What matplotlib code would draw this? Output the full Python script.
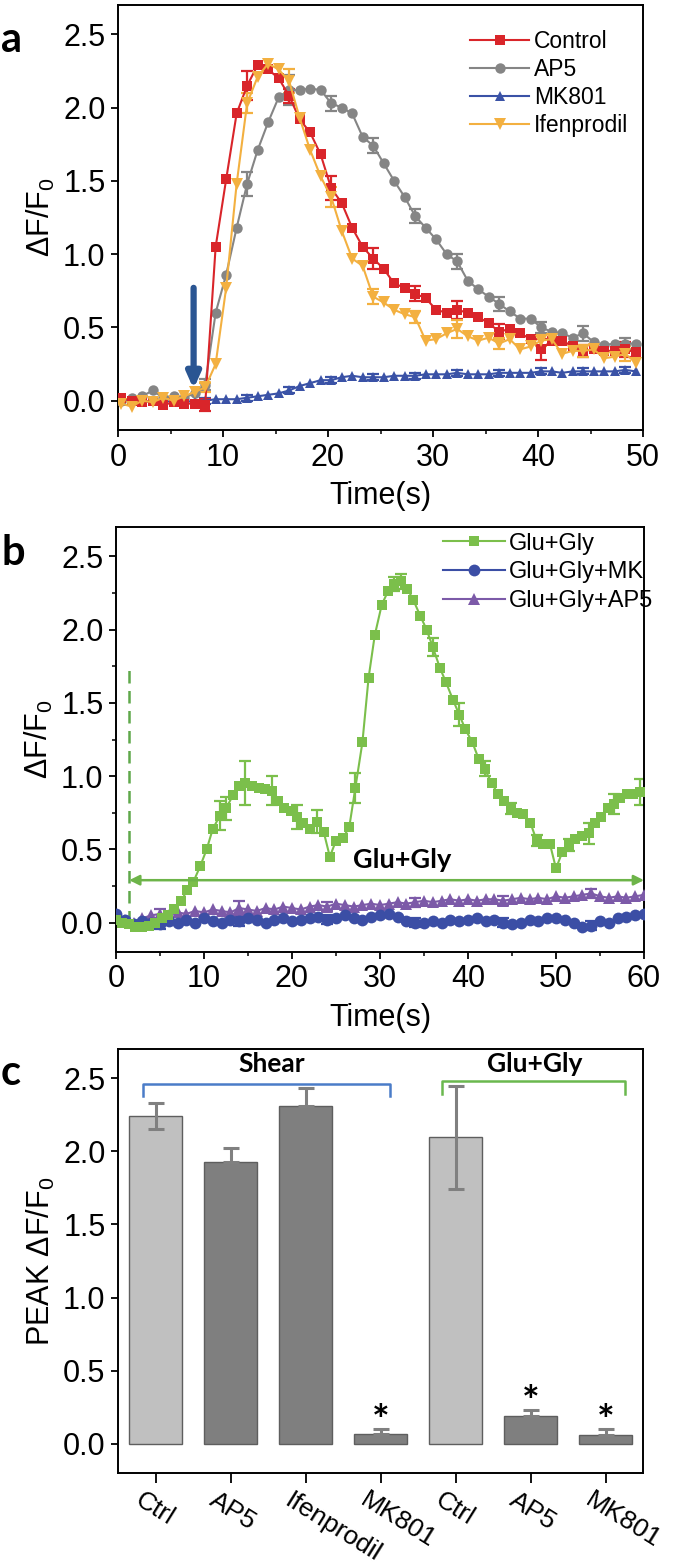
import numpy as np
import matplotlib
matplotlib.use("Agg")
import matplotlib.pyplot as plt
from matplotlib import font_manager as fm
from matplotlib.transforms import ScaledTranslation

# ---------------- fonts ----------------
fam = "Liberation Sans"
try:
    fm.findfont("Liberation Sans Narrow", fallback_to_default=False)
    fam = "Liberation Sans Narrow"
except Exception:
    pass
plt.rcParams['font.family'] = [fam, 'DejaVu Sans']
plt.rcParams['mathtext.fontset'] = 'custom'
plt.rcParams['mathtext.rm'] = fam
plt.rcParams['mathtext.it'] = fam
BOLDFAM = ['Lato', 'DejaVu Sans']

# ---------------- panel a data ----------------
t_a = [0.3, 1.3, 2.3, 3.3, 4.3, 5.3, 6.3, 7.3, 8.3, 9.3,
       10.3, 11.3, 12.3, 13.3, 14.3, 15.3, 16.3, 17.3, 18.3, 19.3,
       20.3, 21.3, 22.3, 23.3, 24.3, 25.3, 26.3, 27.3, 28.3, 29.3,
       30.3, 31.3, 32.3, 33.3, 34.3, 35.3, 36.3, 37.3, 38.3, 39.3,
       40.3, 41.3, 42.3, 43.3, 44.3, 45.3, 46.3, 47.3, 48.3, 49.3]
control = [0.02, 0.00, -0.01, 0.00, -0.03, -0.01, -0.02, -0.02, -0.03, 1.05,
           1.51, 1.96, 2.15, 2.29, 2.26, 2.20, 2.08, 1.92, 1.83, 1.68,
           1.45, 1.35, 1.18, 1.05, 0.97, 0.90, 0.80, 0.77, 0.73, 0.70,
           0.62, 0.60, 0.62, 0.60, 0.57, 0.53, 0.47, 0.49, 0.46, 0.42,
           0.35, 0.41, 0.41, 0.37, 0.34, 0.35, 0.34, 0.34, 0.35, 0.33]
ap5 = [0.00, 0.02, 0.03, 0.07, 0.02, 0.03, 0.02, 0.05, 0.11, 0.60,
       0.86, 1.18, 1.48, 1.71, 1.90, 2.07, 2.12, 2.12, 2.13, 2.12,
       2.03, 2.00, 1.96, 1.80, 1.74, 1.62, 1.50, 1.39, 1.26, 1.18,
       1.10, 1.00, 0.95, 0.82, 0.76, 0.71, 0.66, 0.61, 0.56, 0.56,
       0.50, 0.47, 0.46, 0.43, 0.46, 0.40, 0.38, 0.39, 0.39, 0.39]
mk801 = [0.00, 0.00, -0.01, 0.00, -0.01, 0.00, -0.01, 0.00, 0.00, 0.01,
         0.01, 0.01, 0.02, 0.03, 0.04, 0.05, 0.07, 0.10, 0.12, 0.14,
         0.14, 0.16, 0.17, 0.16, 0.16, 0.16, 0.17, 0.17, 0.17, 0.18,
         0.18, 0.18, 0.19, 0.18, 0.18, 0.18, 0.19, 0.19, 0.19, 0.19,
         0.20, 0.20, 0.19, 0.20, 0.20, 0.20, 0.20, 0.20, 0.21, 0.20]
ifen = [-0.02, -0.04, 0.00, -0.01, 0.02, 0.00, 0.03, 0.06, 0.09, 0.25,
        0.77, 1.48, 2.03, 2.21, 2.30, 2.26, 2.18, 1.93, 1.71, 1.53,
        1.39, 1.16, 0.97, 0.92, 0.71, 0.67, 0.62, 0.59, 0.57, 0.41,
        0.42, 0.46, 0.49, 0.44, 0.41, 0.43, 0.39, 0.42, 0.35, 0.37,
        0.41, 0.42, 0.32, 0.34, 0.34, 0.35, 0.29, 0.30, 0.32, 0.26]
# error bars shown on every 4th sample starting at index 8
err_idx_a = [8, 12, 16, 20, 24, 28, 32, 36, 40, 44, 48]
control_err = [0.04, 0.10, 0.05, 0.08, 0.07, 0.05, 0.06, 0.05, 0.07, 0.04, 0.05]
ap5_err = [0.04, 0.08, 0.10, 0.05, 0.05, 0.05, 0.05, 0.05, 0.04, 0.05, 0.04]
mk801_err = [0.02, 0.02, 0.02, 0.02, 0.02, 0.02, 0.02, 0.02, 0.02, 0.02, 0.02]
ifen_err = [0.03, 0.07, 0.08, 0.07, 0.05, 0.04, 0.06, 0.04, 0.04, 0.04, 0.05]
series_a = ['Control', 'AP5', 'MK801', 'Ifenprodil']

# ---------------- panel b data ----------------
t_glu = [0.0, 0.7, 1.5, 2.2, 3.0, 3.7, 4.4, 5.2, 5.9, 6.6,
         7.4, 8.1, 8.8, 9.6, 10.3, 11.0, 11.8, 12.5, 13.3, 14.0,
         14.7, 15.5, 16.2, 16.9, 17.7, 18.4, 19.1, 19.9, 20.6, 21.3,
         22.1, 22.8, 23.6, 24.3, 25.0, 25.8, 26.5, 27.2, 28.0, 28.7,
         29.4, 30.2, 30.9, 31.6, 32.4, 33.1, 33.8, 34.6, 35.3, 36.0,
         36.8, 37.5, 38.3, 39.0, 39.7, 40.5, 41.2, 41.9, 42.7, 43.4,
         44.1, 44.9, 45.6, 46.3, 47.1, 47.8, 48.5, 49.3, 50.0, 50.7,
         51.5, 52.2, 52.9, 53.7, 54.4, 55.1, 55.9, 56.6, 57.3, 58.1,
         58.8, 59.6]
glu = [0.02, 0.00, -0.01, -0.03, -0.03, -0.02, 0.00, 0.03, 0.05, 0.09,
       0.15, 0.22, 0.28, 0.39, 0.50, 0.64, 0.73, 0.78, 0.87, 0.93,
       0.95, 0.93, 0.92, 0.91, 0.90, 0.83, 0.78, 0.76, 0.72, 0.68,
       0.64, 0.69, 0.62, 0.45, 0.56, 0.58, 0.65, 0.92, 1.23, 1.67,
       1.96, 2.17, 2.26, 2.31, 2.33, 2.28, 2.20, 2.09, 2.00, 1.88,
       1.74, 1.64, 1.52, 1.42, 1.32, 1.23, 1.12, 1.05, 0.95, 0.88,
       0.83, 0.78, 0.75, 0.74, 0.68, 0.56, 0.54, 0.54, 0.37, 0.48,
       0.53, 0.57, 0.59, 0.61, 0.68, 0.72, 0.78, 0.81, 0.85, 0.88,
       0.88, 0.89]
glu_err_idx = [16, 17, 20, 24, 28, 31, 37, 43, 44, 49, 53, 57, 61, 65, 70, 73, 77, 81]
glu_err = [0.10, 0.08, 0.15, 0.10, 0.08, 0.08, 0.10, 0.05, 0.05, 0.06,
           0.08, 0.05, 0.04, 0.04, 0.04, 0.07, 0.07, 0.09]

t_b = [float(v) for v in range(61)]
glu_mk = [0.06, 0.02, -0.01, 0.01, 0.00, -0.01, 0.01, 0.00, 0.02, 0.00,
          0.03, 0.01, 0.00, 0.02, 0.01, 0.03, 0.02, 0.00, 0.02, 0.03,
          0.01, 0.02, 0.03, 0.04, 0.02, 0.03, 0.05, 0.03, 0.02, 0.04,
          0.05, 0.06, 0.04, 0.01, 0.00, 0.00, 0.01, 0.00, 0.02, 0.01,
          0.02, 0.03, 0.01, 0.02, 0.00, -0.01, 0.00, 0.02, 0.01, 0.03,
          0.03, 0.02, 0.00, -0.03, -0.02, 0.01, 0.00, 0.03, 0.04, 0.05,
          0.06]
glu_ap5 = [0.03, 0.02, 0.00, 0.03, 0.05, 0.06, 0.05, 0.07, 0.06, 0.08,
           0.07, 0.09, 0.08, 0.07, 0.10, 0.09, 0.08, 0.10, 0.09, 0.11,
           0.10, 0.09, 0.11, 0.12, 0.11, 0.13, 0.12, 0.11, 0.12, 0.13,
           0.12, 0.13, 0.14, 0.13, 0.14, 0.15, 0.14, 0.15, 0.16, 0.15,
           0.16, 0.15, 0.16, 0.16, 0.15, 0.16, 0.17, 0.16, 0.17, 0.16,
           0.18, 0.17, 0.18, 0.19, 0.20, 0.18, 0.17, 0.18, 0.17, 0.18,
           0.19]
err_idx_b = [5, 14, 24, 34, 44, 54]
glu_mk_err = [0.03, 0.03, 0.03, 0.03, 0.03, 0.03]
glu_ap5_err = [0.03, 0.05, 0.03, 0.03, 0.03, 0.03]
series_b = ['Glu+Gly', 'Glu+Gly+MK', 'Glu+Gly+AP5']

# ---------------- panel c data ----------------
bar_labels = ['Ctrl', 'AP5', 'Ifenprodil', 'MK801', 'Ctrl', 'AP5', 'MK801']
bar_values = [2.24, 1.93, 2.31, 0.07, 2.10, 0.19, 0.06]
bar_err_up = [0.09, 0.09, 0.12, 0.03, 0.35, 0.04, 0.04]
bar_err_down = [0.09, 0.0, 0.0, 0.0, 0.36, 0.0, 0.0]
bar_light = [True, False, False, False, True, False, False]
bar_star = [False, False, False, True, False, True, True]

# ---------------- styling ----------------
C_RED = '#d9252a'
C_GRAY = '#858585'
C_BLUE = '#3a52a6'
C_ORANGE = '#f3b040'
C_GREEN = '#7bbf4b'
C_BLUE_B = '#3b4ea5'
C_PURPLE = '#7c5aa8'
C_ARROW = '#2a5592'

W, H = 675, 1568
fig = plt.figure(figsize=(W / 100, H / 100), dpi=100)

def ax_rect(l, t, r, b):
    return [l / W, 1 - b / H, (r - l) / W, (b - t) / H]

ax_a = fig.add_axes(ax_rect(118, 5, 643, 430))
ax_b = fig.add_axes(ax_rect(116, 527, 644, 952))
ax_c = fig.add_axes(ax_rect(118, 1049, 643, 1473))

TICK_FS = 22
LAB_FS = 22
LEG_FS = 16.5

def style_axes(ax):
    for s in ax.spines.values():
        s.set_linewidth(1.4)
    ax.tick_params(axis='both', which='major', direction='out', length=5,
                   width=1.3, labelsize=TICK_FS, pad=4)
    ax.tick_params(axis='both', which='minor', direction='out', length=3,
                   width=1.1)

def plot_series(ax, t, y, idx, err, color, marker, label, ms=7):
    t = np.asarray(t)
    y = np.asarray(y)
    ax.errorbar(t[idx], y[idx], yerr=err, fmt='none', ecolor=color,
                elinewidth=1.6, capsize=4, capthick=1.6, zorder=2)
    ax.plot(t, y, color=color, lw=1.5, marker=marker, ms=ms,
            markeredgewidth=0, label=label, zorder=3)

# ---------------- panel a ----------------
plot_series(ax_a, t_a, mk801, err_idx_a, mk801_err, C_BLUE, '^', series_a[2], ms=7.5)
plot_series(ax_a, t_a, ap5, err_idx_a, ap5_err, C_GRAY, 'o', series_a[1], ms=7.5)
plot_series(ax_a, t_a, control, err_idx_a, control_err, C_RED, 's', series_a[0], ms=7)
plot_series(ax_a, t_a, ifen, err_idx_a, ifen_err, C_ORANGE, 'v', series_a[3], ms=8)
ax_a.set_xlim(0, 50)
ax_a.set_ylim(-0.2, 2.7)
ax_a.set_xticks([0, 10, 20, 30, 40, 50])
ax_a.set_xticks([5, 15, 25, 35, 45], minor=True)
ax_a.set_yticks([0.0, 0.5, 1.0, 1.5, 2.0, 2.5])
ax_a.set_yticklabels(['0.0', '0.5', '1.0', '1.5', '2.0', '2.5'])
style_axes(ax_a)
ax_a.set_xlabel('Time(s)', fontsize=LAB_FS, labelpad=6)
ax_a.set_ylabel(r'$\Delta$F/F$_0$', fontsize=LAB_FS, labelpad=4)
ax_a.annotate('', xy=(7.2, 0.08), xytext=(7.2, 0.77),
              arrowprops=dict(arrowstyle='-|>,head_length=0.9,head_width=0.4',
                              lw=4.5, color=C_ARROW, shrinkA=0, shrinkB=0),
              zorder=5)
h, l = ax_a.get_legend_handles_labels()
order = [l.index(n) for n in series_a]
ax_a.legend([h[i] for i in order], [l[i] for i in order], loc='upper right',
            bbox_to_anchor=(1.02, 1.0), frameon=False, fontsize=LEG_FS,
            handlelength=2.6, handletextpad=0.2, labelspacing=0.22,
            borderaxespad=0.7)

# ---------------- panel b ----------------
plot_series(ax_b, t_b, glu_ap5, err_idx_b, glu_ap5_err, C_PURPLE, '^', series_b[2], ms=9)
plot_series(ax_b, t_b, glu_mk, err_idx_b, glu_mk_err, C_BLUE_B, 'o', series_b[1], ms=8.5)
plot_series(ax_b, t_glu, glu, glu_err_idx, glu_err, C_GREEN, 's', series_b[0], ms=7)
ax_b.set_xlim(0, 60)
ax_b.set_ylim(-0.2, 2.7)
ax_b.set_xticks([0, 10, 20, 30, 40, 50, 60])
ax_b.set_xticks([5, 15, 25, 35, 45, 55], minor=True)
ax_b.set_yticks([0.0, 0.5, 1.0, 1.5, 2.0, 2.5])
ax_b.set_yticklabels(['0.0', '0.5', '1.0', '1.5', '2.0', '2.5'])
ax_b.set_yticks([0.25, 0.75, 1.25, 1.75, 2.25], minor=True)
style_axes(ax_b)
ax_b.set_xlabel('Time(s)', fontsize=LAB_FS, labelpad=6)
ax_b.set_ylabel(r'$\Delta$F/F$_0$', fontsize=LAB_FS, labelpad=4)
ax_b.plot([1.5, 1.5], [0.0, 1.75], ls=(0, (5, 3)), color='#5fa84a', lw=1.8, zorder=1)
ax_b.annotate('', xy=(60, 0.29), xytext=(1.5, 0.29),
              arrowprops=dict(arrowstyle='<|-|>,head_length=0.6,head_width=0.3',
                              lw=1.8, color='#6db449', shrinkA=0, shrinkB=0),
              zorder=4)
ax_b.text(32.5, 0.43, 'Glu+Gly', fontsize=19.5, fontweight='bold',
          family=BOLDFAM, ha='center', va='center')
h, l = ax_b.get_legend_handles_labels()
order = [l.index(n) for n in series_b]
ax_b.legend([h[i] for i in order], [l[i] for i in order], loc='upper right',
            bbox_to_anchor=(1.045, 1.02), frameon=False, fontsize=17,
            handlelength=2.6, handletextpad=0.2, labelspacing=0.28,
            borderaxespad=0.2)

# ---------------- panel c ----------------
x = np.arange(len(bar_values))
colors = ['#c0c0c0' if lt else '#7f7f7f' for lt in bar_light]
ax_c.bar(x, bar_values, width=0.7, color=colors, edgecolor='#5e5e5e',
         linewidth=1.0, zorder=2)
ax_c.errorbar(x, bar_values, yerr=[bar_err_down, bar_err_up], fmt='none',
              ecolor='#808080', elinewidth=2.2, capsize=6, capthick=2.2, zorder=3)
for xi, v, e, s in zip(x, bar_values, bar_err_up, bar_star):
    if s:
        ax_c.text(xi, v + e - 0.09, '*', fontsize=30, fontweight='bold',
                  ha='center', va='bottom', family=BOLDFAM)
ax_c.set_xlim(-0.5, 6.5)
ax_c.set_ylim(-0.2, 2.7)
ax_c.set_yticks([0.0, 0.5, 1.0, 1.5, 2.0, 2.5])
ax_c.set_yticklabels(['0.0', '0.5', '1.0', '1.5', '2.0', '2.5'])
ax_c.set_xticks(x)
ax_c.set_xticklabels(bar_labels, rotation=-32, ha='left', va='top',
                     rotation_mode='anchor')
style_axes(ax_c)
ax_c.tick_params(axis='x', which='major', length=7, pad=4)
shift = ScaledTranslation(-12 / 100, 0, fig.dpi_scale_trans)
for lab in ax_c.get_xticklabels():
    lab.set_fontsize(19)
    lab.set_transform(lab.get_transform() + shift)
ax_c.set_ylabel(r'PEAK $\Delta$F/F$_0$', fontsize=LAB_FS, labelpad=4)
# group brackets
ax_c.plot([-0.17, -0.17, 3.13, 3.13], [2.38, 2.46, 2.46, 2.38], color='#4a7cc8',
          lw=1.8, zorder=4)
ax_c.plot([3.82, 3.82, 6.26, 6.26], [2.39, 2.48, 2.48, 2.39], color='#6ab84e',
          lw=1.8, zorder=4)
ax_c.text(1.55, 2.6, 'Shear', fontsize=19, fontweight='bold', family=BOLDFAM,
          ha='center', va='center')
ax_c.text(5.06, 2.6, 'Glu+Gly', fontsize=19, fontweight='bold', family=BOLDFAM,
          ha='center', va='center')

# panel letters
for letter, ypix in [('a', 40), ('b', 553), ('c', 1073)]:
    fig.text(1 / W, 1 - ypix / H, letter, fontsize=30, fontweight='bold',
             family=BOLDFAM, ha='left', va='center')

fig.savefig('out.png', dpi=100)
